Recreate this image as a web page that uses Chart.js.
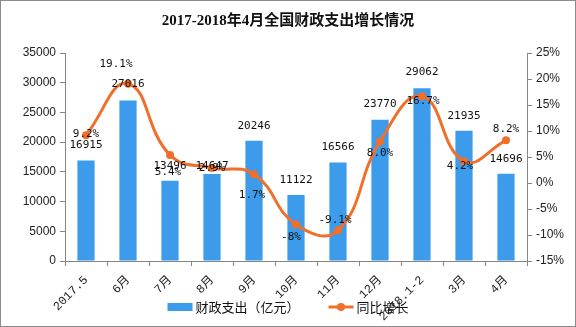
<!DOCTYPE html>
<html>
<head>
<meta charset="utf-8">
<script src="https://cdn.jsdelivr.net/npm/chart.js@4/dist/chart.umd.min.js"></script>
<style>
  html, body { margin: 0; padding: 0; background: #fff; }
  #wrap { width: 576px; height: 327px; }
</style>
</head>
<body>
<div id="wrap"><canvas id="grafik" width="576" height="327"></canvas></div>
<script>
// data
const kategori = ['2017.5', '6月', '7月', '8月', '9月', '10月', '11月', '12月', '2018.1-2', '3月', '4月'];
const pengeluaran = [16915, 27016, 13496, 14647, 20246, 11122, 16566, 23770, 29062, 21935, 14696];
const pertumbuhan = [9.2, 19.1, 5.4, 2.9, 1.7, -8, -9.1, 8.0, 16.7, 4.2, 8.2];
const labelPertumbuhan = ['9.2%', '19.1%', '5.4%', '2.9%', '1.7%', '-8%', '-9.1%', '8.0%', '16.7%', '4.2%', '8.2%'];

const BIRU = '#3d9bec';
const ORANYE = '#ef6f2b';
const ABU = '#868686';
const FONT_CJK = '"Noto Sans CJK SC"';

// geser label (dx, dy) supaya mirip gambar asli
const geserBatang = [-15, -16, -15, -8, -15, -15, -15, -16, -16, -15, -15];
const geserGaris = [[0, -1], [-12, -20], [-2, 17], [0, 0], [-2, 21], [-5, 13], [-3, -10], [0, 12], [1, 5], [-4, 5], [0, -11]];

const labelPlugin = {
    id: 'labelPlugin',
    afterDatasetsDraw(chart) {
        const ctx = chart.ctx;
        ctx.save();
        ctx.font = '11px "DejaVu Sans Mono", monospace';
        ctx.fillStyle = '#111';
        ctx.textAlign = 'center';
        ctx.textBaseline = 'middle';
        chart.getDatasetMeta(0).data.forEach((bar, i) => {
            ctx.fillText(String(pengeluaran[i]), bar.x, bar.y + geserBatang[i]);
        });
        chart.getDatasetMeta(1).data.forEach((pt, i) => {
            ctx.fillText(labelPertumbuhan[i], pt.x + geserGaris[i][0], pt.y + geserGaris[i][1]);
        });
        ctx.restore();
    },
    afterDraw(chart) {
        const ctx = chart.ctx;
        ctx.save();
        // legenda manual
        ctx.font = '13px ' + FONT_CJK;
        ctx.textBaseline = 'middle';
        const t1 = chart.data.datasets[0].label;
        const t2 = chart.data.datasets[1].label;
        const w1 = ctx.measureText(t1).width;
        const w2 = ctx.measureText(t2).width;
        const kotak = 25, jarak = 3, antara = 29;
        const total = kotak + jarak + w1 + antara + kotak + jarak + w2;
        let x = (chart.width - total) / 2;
        const y = 307;
        ctx.fillStyle = BIRU;
        ctx.fillRect(x, y - 4, kotak, 8);
        ctx.fillStyle = '#111';
        ctx.fillText(t1, x + kotak + jarak, y);
        x += kotak + jarak + w1 + antara;
        ctx.strokeStyle = ORANYE;
        ctx.lineWidth = 3;
        ctx.beginPath();
        ctx.moveTo(x, y);
        ctx.lineTo(x + kotak, y);
        ctx.stroke();
        ctx.fillStyle = ORANYE;
        ctx.beginPath();
        ctx.arc(x + kotak / 2, y, 4, 0, Math.PI * 2);
        ctx.fill();
        ctx.fillStyle = '#111';
        ctx.fillText(t2, x + kotak + jarak, y);
        // bingkai
        ctx.strokeStyle = '#8c8c8c';
        ctx.lineWidth = 1;
        ctx.strokeRect(0.5, 0.5, chart.width - 1, chart.height - 1);
        ctx.restore();
    }
};

const ctxGrafik = document.getElementById('grafik').getContext('2d');
const grafik = new Chart(ctxGrafik, {
    type: 'bar',
    data: {
        labels: kategori,
        datasets: [{
            type: 'bar',
            label: '财政支出（亿元）',
            data: pengeluaran,
            backgroundColor: BIRU,
            barPercentage: 0.41,
            categoryPercentage: 1,
            yAxisID: 'y',
            order: 2
        }, {
            type: 'line',
            label: '同比增长',
            data: pertumbuhan,
            borderColor: ORANYE,
            backgroundColor: ORANYE,
            borderWidth: 3,
            pointRadius: 4,
            pointBackgroundColor: ORANYE,
            pointBorderWidth: 0,
            tension: 0.45,
            clip: false,
            yAxisID: 'y1',
            order: 1
        }]
    },
    options: {
        responsive: false,
        animation: false,
        devicePixelRatio: 1,
        layout: { padding: { left: 0, right: 0, top: 0, bottom: 0 } },
        plugins: {
            legend: { display: false },
            tooltip: { enabled: false },
            title: {
                display: true,
                text: '2017-2018年4月全国财政支出增长情况',
                color: '#111',
                font: { family: '"Liberation Serif", ' + FONT_CJK, size: 15, weight: 'bold' },
                padding: { top: 12, bottom: 23 }
            }
        },
        scales: {
            x: {
                grid: { display: true, drawOnChartArea: false, drawTicks: true, tickLength: 5, color: ABU },
                border: { color: ABU },
                ticks: {
                    minRotation: 45, maxRotation: 45, autoSkip: false,
                    color: '#222',
                    font: { family: '"Liberation Mono", ' + FONT_CJK, size: 12 },
                    padding: 7
                },
                afterFit(scale) { scale.height = 66; }
            },
            y: {
                position: 'left',
                min: 0, max: 35000,
                ticks: {
                    stepSize: 5000, color: '#222', font: { family: '"Liberation Sans"', size: 12 }, padding: 4,
                    callback: (v) => String(v)
                },
                grid: { display: true, drawOnChartArea: false, drawTicks: true, tickLength: 5, color: ABU },
                border: { color: ABU },
                afterFit(scale) { scale.width = 65; }
            },
            y1: {
                position: 'right',
                min: -15, max: 25,
                ticks: {
                    stepSize: 5, color: '#222', font: { family: '"Liberation Sans"', size: 12 }, padding: 4,
                    callback: (v) => v + '%'
                },
                grid: { display: true, drawOnChartArea: false, drawTicks: true, tickLength: 5, color: ABU },
                border: { color: ABU },
                afterFit(scale) { scale.width = 49; }
            }
        }
    },
    plugins: [labelPlugin]
});
</script>
</body>
</html>
